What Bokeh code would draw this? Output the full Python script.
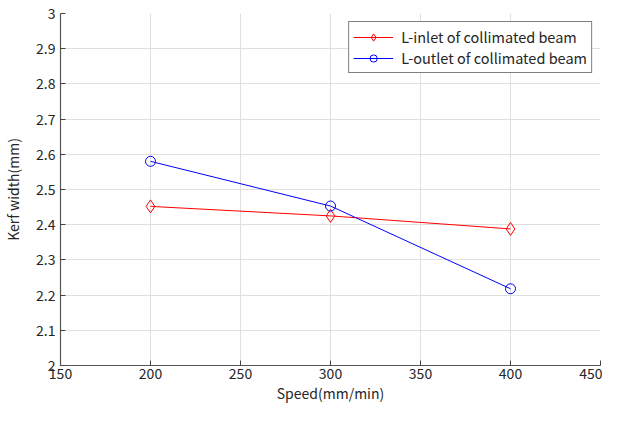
from bokeh.plotting import figure
from bokeh.models import Range1d, FixedTicker, CustomJSTickFormatter, Legend, LegendItem
from bokeh.embed import file_html
from bokeh.resources import INLINE

speed = [200, 300, 400]
inlet = [2.452, 2.425, 2.388]
outlet = [2.580, 2.453, 2.218]
x_ticks = [150, 200, 250, 300, 350, 400, 450]
y_ticks = [2.0, 2.1, 2.2, 2.3, 2.4, 2.5, 2.6, 2.7, 2.8, 2.9, 3.0]

FONT = "Noto Sans CJK KR"
TXT = "#262626"

p = figure(width=602, height=405, output_backend="svg", toolbar_location=None,
           x_range=Range1d(150, 450), y_range=Range1d(2, 3),
           min_border_left=59, min_border_right=2, min_border_top=13, min_border_bottom=38)
p.outline_line_color = None
p.background_fill_color = "white"
p.border_fill_color = "white"

for ax in (p.xaxis[0], p.yaxis[0]):
    ax.axis_line_color = "#555555"
    ax.axis_line_width = 1.2
    ax.major_tick_in = 5
    ax.major_tick_out = 0
    ax.minor_tick_in = 0
    ax.minor_tick_out = 0
    ax.major_tick_line_color = "#444444"
    ax.major_label_text_font = FONT
    ax.major_label_text_font_size = "14px"
    ax.major_label_text_color = TXT
    ax.axis_label_text_font = FONT
    ax.axis_label_text_font_size = "14px"
    ax.axis_label_text_color = TXT
    ax.axis_label_text_font_style = "normal"

p.xaxis.ticker = FixedTicker(ticks=x_ticks)
p.yaxis.ticker = FixedTicker(ticks=y_ticks)
p.yaxis.formatter = CustomJSTickFormatter(code="return Number(tick.toFixed(1)).toString();")
p.xaxis.axis_label = "Speed(mm/min)"
p.yaxis.axis_label = "Kerf width(mm)"
p.xaxis.major_label_standoff = 2
p.yaxis.major_label_standoff = 5
p.xaxis.axis_label_standoff = 1
p.yaxis.axis_label_standoff = 10

p.grid.grid_line_color = "#dfdfdf"
p.grid.grid_line_width = 1

l1 = p.line(speed, inlet, line_color="#ff0000", line_width=1)
m1 = p.scatter(speed, inlet, marker="diamond", size=13, line_color="#ff0000",
               fill_color=None, line_width=1)
l2 = p.line(speed, outlet, line_color="#0000ff", line_width=1)
m2 = p.scatter(speed, outlet, marker="circle", size=10, line_color="#0000ff",
               fill_color=None, line_width=1)

legend = Legend(items=[
    LegendItem(label="L-inlet of collimated beam", renderers=[l1, m1]),
    LegendItem(label="L-outlet of collimated beam", renderers=[l2, m2]),
], location="top_right")
legend.label_text_font = FONT
legend.label_text_font_size = "14.5px"
legend.label_text_color = TXT
legend.border_line_color = "black"
legend.border_line_width = 1
legend.background_fill_alpha = 1
legend.glyph_width = 40
legend.glyph_height = 18
legend.label_height = 15
legend.spacing = -3
legend.padding = 4
legend.margin = 8
legend.label_standoff = 8
p.add_layout(legend)

open("out.html", "w").write(file_html(p, INLINE))
